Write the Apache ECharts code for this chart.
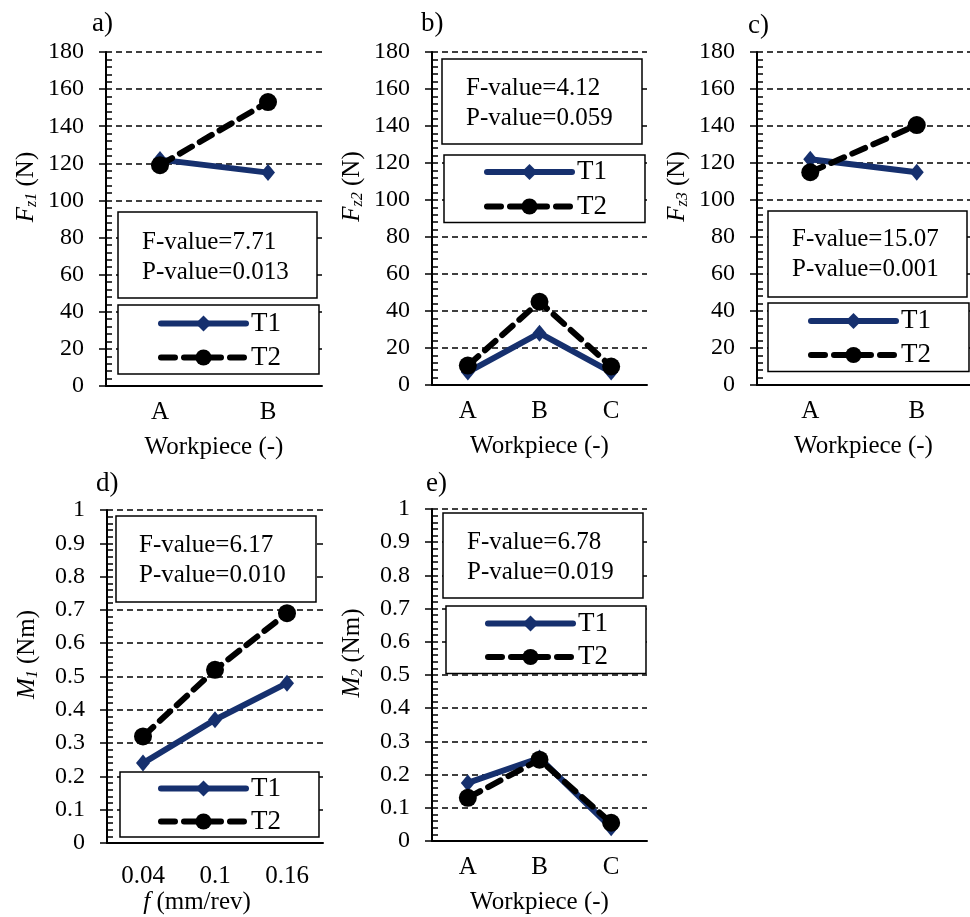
<!DOCTYPE html>
<html><head><meta charset="utf-8">
<script src="https://cdn.jsdelivr.net/npm/echarts@6/dist/echarts.min.js"></script>
<style>html,body{margin:0;padding:0;background:#fff}#c{width:970px;height:917px}</style>
</head><body><div id="c"></div>
<script>
// ---- data ----
const workpiece2 = ['A', 'B'];
const workpiece3 = ['A', 'B', 'C'];
const feedRates = ['0.04', '0.1', '0.16'];
const fz1T1 = [122, 115];
const fz1T2 = [119, 153];
const fz2T1 = [7, 28, 7];
const fz2T2 = [10.5, 45, 10];
const fz3T1 = [122, 115];
const fz3T2 = [115, 140.5];
const m1T1 = [0.24, 0.37, 0.48];
const m1T2 = [0.32, 0.52, 0.69];
const m2T1 = [0.175, 0.25, 0.04];
const m2T2 = [0.13, 0.245, 0.055];
const forceRange = [0, 180];
const forceStep = 20;
const momentRange = [0, 1];
const momentStep = 0.1;
const panelLabels = ['a)', 'b)', 'c)', 'd)', 'e)'];
const fValues = ['F-value=7.71', 'F-value=4.12', 'F-value=15.07', 'F-value=6.17', 'F-value=6.78'];
const pValues = ['P-value=0.013', 'P-value=0.059', 'P-value=0.001', 'P-value=0.010', 'P-value=0.019'];
const seriesNames = ['T1', 'T2'];

// ---- layout / style ----
const FONT = 'Liberation Serif';
const NAVY = '#16306e';
const LW = 6;
const DASH = [14, 9];
const grids = [
  {left: 106, top: 52, width: 216, height: 334},
  {left: 432, top: 52, width: 215, height: 333},
  {left: 757, top: 52, width: 213, height: 333},
  {left: 107, top: 510, width: 216, height: 333},
  {left: 432, top: 509, width: 215, height: 332}
];
const statBoxes = [
  {x: 118, y: 212, w: 199, h: 86, tx: 142, ty: 227},
  {x: 442, y: 59, w: 200, h: 85, tx: 466, ty: 73},
  {x: 768, y: 211, w: 199, h: 86, tx: 792, ty: 224},
  {x: 116, y: 516, w: 200, h: 86, tx: 139, ty: 530},
  {x: 443, y: 513, w: 200, h: 85, tx: 467, ty: 527}
];
const legendPos = [
  {left: 118, top: 305, pl: 40, pt: 5, pb: 3, gap: 7},
  {left: 444, top: 155, pl: 40, pt: 3.5, pb: 2.5, gap: 7.5},
  {left: 768, top: 303, pl: 40, pt: 4.5, pb: 3, gap: 7},
  {left: 120, top: 772, pl: 38, pt: 3, pb: 2, gap: 6},
  {left: 446, top: 606, pl: 39, pt: 4, pb: 3, gap: 6.5}
];
const titlePos = [
  {left: 92, top: 10}, {left: 421, top: 10}, {left: 748, top: 12},
  {left: 96, top: 470}, {left: 426, top: 470}
];
const yNames = [
  ['F', 'z1', ' (N)'], ['F', 'z2', ' (N)'], ['F', 'z3', ' (N)'],
  ['M', '1', ' (Nm)'], ['M', '2', ' (Nm)']
];
const yNameShift = [64, 64, 64, 44, 44];
const cats = [workpiece2, workpiece3, workpiece2, feedRates, workpiece3];
const t1 = [fz1T1, fz2T1, fz3T1, m1T1, m2T1];
const t2 = [fz1T2, fz2T2, fz3T2, m1T2, m2T2];

const option = {
  animation: false,
  backgroundColor: '#fff',
  textStyle: {fontFamily: FONT, color: '#000'},
  title: titlePos.map((p, i) => ({
    text: panelLabels[i], left: p.left, top: p.top, padding: 0,
    textStyle: {fontFamily: FONT, fontSize: 27, fontWeight: 'normal', color: '#000'}
  })),
  grid: grids.map(g => Object.assign({containLabel: false}, g)),
  legend: legendPos.map((p, i) => ({
    orient: 'vertical', left: p.left, top: p.top,
    data: [
      {name: seriesNames[0],
       lineStyle: {color: NAVY, width: LW, cap: 'round'}},
      {name: seriesNames[1],
       lineStyle: {color: '#000', width: LW, type: DASH, cap: 'round'}}
    ],
    itemWidth: 85, itemHeight: 20, itemGap: p.gap,
    padding: [p.pt, 38, p.pb, p.pl],
    backgroundColor: '#fff', borderColor: '#000', borderWidth: 1.5, borderRadius: 0,
    selectedMode: false,
    textStyle: {fontFamily: FONT, fontSize: 27, color: '#000'}
  })),
  xAxis: grids.map((g, i) => ({
    gridIndex: i, type: 'category', data: cats[i], boundaryGap: true,
    axisLine: {show: true, lineStyle: {color: '#000', width: 2}},
    axisTick: {show: false},
    axisLabel: {fontFamily: FONT, fontSize: 25, color: '#000', margin: i === 3 ? 21 : 14},
    name: i === 3 ? '{i|f} (mm/rev)' : 'Workpiece (-)',
    nameLocation: 'middle', nameGap: i === 3 ? 47 : 49,
    nameTextStyle: {
      fontFamily: FONT, fontSize: 25, color: '#000',
      padding: i === 3 ? [0, 36, 0, 0] : 0,
      rich: {i: {fontFamily: FONT, fontSize: 25, fontStyle: 'italic', color: '#000'}}
    }
  })),
  yAxis: grids.map((g, i) => {
    const force = i < 3;
    const n = yNames[i];
    return {
      gridIndex: i, type: 'value',
      min: force ? forceRange[0] : momentRange[0],
      max: force ? forceRange[1] : momentRange[1],
      interval: force ? forceStep : momentStep,
      axisLine: {show: true, lineStyle: {color: '#000', width: 2}},
      axisTick: {show: true, length: 7, lineStyle: {color: '#000', width: 1.5}},
      minorTick: {show: true, splitNumber: 5, length: -6, lineStyle: {color: '#000', width: 1.5}},
      splitLine: {show: true, lineStyle: {color: '#000', width: 1.5, type: [6, 4]}},
      axisLabel: {fontFamily: FONT, fontSize: 24, color: '#000', margin: 22},
      name: '{i|' + n[0] + '}{s|' + n[1] + '}' + n[2],
      nameLocation: 'middle', nameRotate: 90, nameGap: 66,
      nameTextStyle: {
        fontFamily: FONT, fontSize: 25, color: '#000',
        padding: [0, 0, 0, yNameShift[i]],
        rich: {
          i: {fontFamily: FONT, fontSize: 25, fontStyle: 'italic', color: '#000'},
          s: {fontFamily: FONT, fontSize: 16, fontStyle: 'italic', color: '#000', padding: [12, 0, 0, 0]}
        }
      }
    };
  }),
  graphic: statBoxes.map((b, i) => ({
    type: 'group', z: 1,
    children: [
      {type: 'rect', z: 1, shape: {x: b.x, y: b.y, width: b.w, height: b.h},
       style: {fill: '#fff', stroke: '#000', lineWidth: 1.5}},
      {type: 'text', z: 1, x: b.tx, y: b.ty,
       style: {text: fValues[i] + '\n' + pValues[i], font: '25px "Liberation Serif"', lineHeight: 30, fill: '#000'}}
    ]
  })),
  series: []
};

for (let i = 0; i < 5; i++) {
  option.series.push({
    name: seriesNames[0], type: 'line', xAxisIndex: i, yAxisIndex: i, z: 3,
    data: t1[i], symbol: 'diamond', symbolSize: [14, 17],
    itemStyle: {color: NAVY},
    lineStyle: {color: NAVY, width: LW, cap: 'round'}
  });
  option.series.push({
    name: seriesNames[1], type: 'line', xAxisIndex: i, yAxisIndex: i, z: 4,
    data: t2[i], symbol: 'circle', symbolSize: 18,
    itemStyle: {color: '#000'},
    lineStyle: {color: '#000', width: LW, type: DASH, cap: 'round'}
  });
}

const chart = echarts.init(document.getElementById('c'), null, {renderer: 'canvas'});
chart.setOption(option);
</script>
</body></html>
